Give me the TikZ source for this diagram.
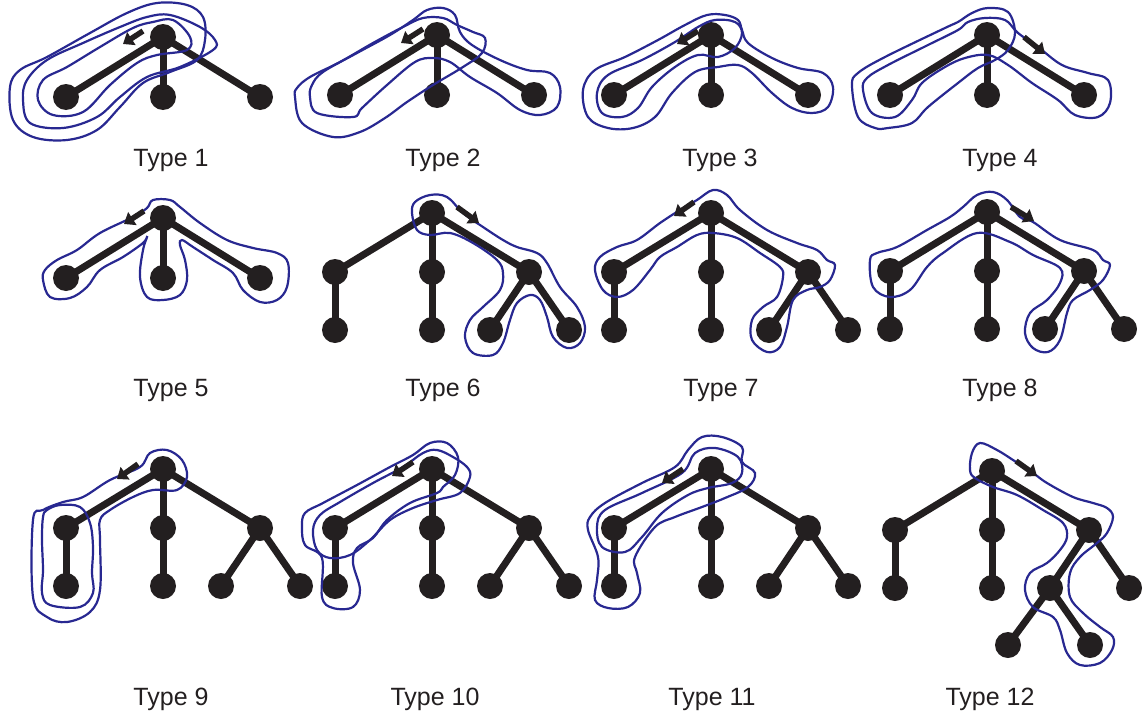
\documentclass[tikz,border=0pt]{standalone}
\usepackage{fontspec}
\newfontfamily\labfont{Liberation Sans}
\usetikzlibrary{arrows.meta}
\definecolor{inkblk}{RGB}{35,31,32}
\definecolor{penblue}{RGB}{40,40,145}
\begin{document}
\begin{tikzpicture}[x=1pt,y=-1pt,
  vtx/.style={circle,fill=inkblk,inner sep=0pt,minimum size=26pt},
  limb/.style={draw=inkblk,line width=7pt},
  outl/.style={draw=penblue,line width=2.2pt},
  arr/.style={draw=inkblk,line width=5.5pt,-{Triangle[length=10pt,width=15pt]}},
  lab/.style={font=\labfont\fontsize{25}{29}\selectfont,text=inkblk}]
\useasboundingbox (0,0) rectangle (1144,723);
% ---- one-level trees (types 1-5)
\foreach \i/\x/\y in {1/163/37,2/437/35,3/711/35,4/987/35,5/163/218}{
  \node[vtx] (t\i r) at (\x,\y) {};
  \node[vtx] (t\i a) at (\x-97,\y+60) {};
  \node[vtx] (t\i b) at (\x,\y+60) {};
  \node[vtx] (t\i c) at (\x+97,\y+60) {};
  \draw[limb] (t\i r.center) -- (t\i a.center);
  \draw[limb] (t\i r.center) -- (t\i b.center);
  \draw[limb] (t\i r.center) -- (t\i c.center);
}
% ---- two-level trees (types 6-12)
\foreach \i/\x/\y in {6/432/213,7/711/213,8/987/212,9/163/469,10/432/469,11/711/469,12/992/471}{
  \node[vtx] (t\i r) at (\x,\y) {};
  \node[vtx] (t\i a) at (\x-97,\y+59) {};
  \node[vtx] (t\i b) at (\x,\y+59) {};
  \node[vtx] (t\i c) at (\x+97,\y+59) {};
  \node[vtx] (t\i d) at (\x-97,\y+117) {};
  \node[vtx] (t\i e) at (\x,\y+117) {};
  \node[vtx] (t\i f) at (\x+58,\y+117) {};
  \node[vtx] (t\i g) at (\x+137,\y+117) {};
  \draw[limb] (t\i r.center) -- (t\i a.center);
  \draw[limb] (t\i r.center) -- (t\i b.center);
  \draw[limb] (t\i r.center) -- (t\i c.center);
  \draw[limb] (t\i a.center) -- (t\i d.center);
  \draw[limb] (t\i b.center) -- (t\i e.center);
  \draw[limb] (t\i c.center) -- (t\i f.center);
  \draw[limb] (t\i c.center) -- (t\i g.center);
}
\node[vtx] (t12h) at (1008,645) {};
\node[vtx] (t12i) at (1090,645) {};
\draw[limb] (t12f.center) -- (t12h.center);
\draw[limb] (t12f.center) -- (t12i.center);

% ---- outlines
% type 1
\draw[outl] plot[smooth cycle,tension=0.6] coordinates {(38,100) (53,115) (83,112) (110,85) (137,63) (157,55) (187,50) (190,37) (173,20) (153,22) (133,28) (100,47) (67,67) (43,80)};
\draw[outl] plot[smooth cycle,tension=0.6] coordinates {(23,100) (30,123) (63,128) (97,117) (120,97) (147,77) (180,67) (213,50) (215,40) (200,27) (170,15) (147,17) (120,27) (83,43) (47,60) (27,80)};
\draw[outl] plot[smooth cycle,tension=0.6] coordinates {(10,87) (13,120) (33,137) (67,140) (97,130) (120,107) (143,83) (170,72) (197,60) (205,40) (203,17) (187,5) (157,3) (127,13) (90,33) (47,57) (20,70)};
% type 2
\draw[outl] plot[smooth cycle,tension=0.6] coordinates {(310,97) (317,113) (353,117) (362,108) (387,85) (415,62) (433,58) (450,62) (470,77) (497,93) (520,110) (540,115) (557,107) (560,87) (550,73) (527,70) (500,60) (472,45) (460,32) (455,15) (443,8) (427,10) (413,20) (390,35) (357,53) (323,72) (312,85)};
\draw[outl] plot[smooth cycle,tension=0.6] coordinates {(295,97) (302,123) (333,137) (360,132) (385,118) (407,102) (433,85) (463,67) (482,53) (485,38) (473,32) (457,25) (443,18) (423,18) (403,27) (373,43) (340,62) (310,77) (297,88)};
% type 3
\draw[outl] plot[smooth cycle,tension=0.6] coordinates {(583,90) (588,117) (608,128) (633,128) (655,117) (672,93) (695,72) (718,67) (738,65) (752,73) (772,93) (792,108) (812,113) (828,107) (833,87) (823,73) (798,68) (772,58) (748,43) (742,30) (738,20) (725,15) (707,15) (685,25) (658,40) (625,57) (595,70)};
\draw[outl] plot[smooth cycle,tension=0.6] coordinates {(597,93) (602,113) (622,117) (638,108) (652,87) (675,67) (698,55) (718,57) (735,48) (742,33) (735,22) (715,20) (698,27) (675,42) (642,60) (608,75)};
% type 4
\draw[outl] plot[smooth cycle,tension=0.6] coordinates {(852,85) (858,117) (875,128) (888,128) (912,123) (928,107) (958,83) (978,68) (995,60) (1008,50) (1015,33) (1008,12) (988,8) (972,13) (958,22) (945,28) (885,57) (858,73)};
\draw[outl] plot[smooth cycle,tension=0.6] coordinates {(863,90) (872,113) (895,117) (912,100) (922,83) (945,67) (965,58) (988,55) (1008,65) (1032,83) (1058,100) (1075,115) (1098,117) (1110,103) (1108,80) (1088,73) (1062,65) (1038,47) (1018,33) (1005,20) (985,18) (968,22) (958,30) (928,45) (888,65) (867,78)};
% type 5
\draw[outl] plot[smooth cycle,tension=0.6] coordinates {(43,280) (50,297) (70,298) (87,287) (100,270) (123,257) (143,243) (147,237) (143,250) (140,277) (147,297) (163,300) (180,295) (187,280) (185,260) (180,245) (182,240) (193,247) (213,260) (233,273) (243,290) (260,302) (277,300) (287,287) (288,263) (277,253) (253,248) (227,240) (200,223) (180,207) (170,200) (153,200) (147,208) (133,217) (100,233) (77,250) (57,260) (45,270)};
% type 6
\draw[outl] plot[smooth cycle,tension=0.6] coordinates {(412,213) (417,230) (430,235) (450,233) (473,243) (497,260) (503,273) (500,290) (483,307) (470,320) (465,337) (473,353) (493,355) (503,343) (510,320) (517,303) (530,295) (540,300) (547,317) (553,337) (567,348) (580,343) (585,327) (577,307) (560,287) (547,263) (537,253) (517,247) (503,240) (483,227) (463,213) (447,197) (430,195) (415,202)};
% type 7
\draw[outl] plot[smooth cycle,tension=0.6] coordinates {(595,270) (603,290) (617,297) (633,290) (650,270) (660,257) (677,247) (697,235) (713,233) (737,238) (760,253) (780,267) (783,277) (777,297) (763,307) (752,320) (752,340) (767,352) (780,347) (787,327) (793,300) (807,290) (820,287) (830,280) (835,265) (827,260) (817,250) (797,243) (767,230) (740,210) (727,195) (713,190) (697,200) (680,210) (660,223) (637,240) (617,247) (600,257)};
% type 8
\draw[outl] plot[smooth cycle,tension=0.6] coordinates {(870,260) (873,287) (890,297) (910,290) (927,267) (943,253) (977,233) (1010,242) (1033,255) (1060,268) (1060,283) (1047,300) (1030,313) (1025,333) (1033,348) (1048,352) (1060,340) (1067,313) (1073,300) (1090,290) (1103,280) (1110,265) (1103,260) (1093,250) (1060,240) (1033,222) (1020,217) (1007,200) (993,192) (977,195) (963,207) (950,217) (927,230) (897,247) (877,253)};
% type 9
\draw[outl] plot[smooth cycle,tension=0.6] coordinates {(43,517) (42,540) (43,570) (42,593) (50,605) (80,607) (93,593) (92,573) (93,547) (90,523) (80,507) (60,505) (47,510)};
\draw[outl] plot[smooth cycle,tension=0.6] coordinates {(33,520) (33,597) (47,617) (67,622) (90,612) (100,590) (100,540) (100,520) (110,510) (133,497) (153,490) (177,490) (187,477) (182,460) (167,450) (150,453) (140,467) (110,480) (83,497) (63,502) (43,510)};
% type 10
\draw[outl] plot[smooth cycle,tension=0.6] coordinates {(302,527) (305,545) (322,558) (322,597) (333,608) (353,607) (360,590) (353,563) (357,548) (373,538) (387,520) (410,503) (437,493) (443,487) (455,475) (458,457) (447,443) (430,443) (413,455) (390,467) (357,485) (323,503) (305,513)};
\draw[outl] plot[smooth cycle,tension=0.6] coordinates {(313,530) (317,550) (330,558) (350,555) (370,540) (390,520) (413,508) (437,500) (460,493) (470,477) (467,467) (453,457) (437,450) (423,453) (403,467) (373,483) (340,502) (320,515)};
% type 11
\draw[outl] plot[smooth cycle,tension=0.6] coordinates {(588,530) (598,557) (597,580) (595,600) (608,608) (628,607) (640,593) (637,573) (635,557) (655,527) (675,517) (702,507) (725,498) (748,487) (755,473) (742,462) (742,447) (722,437) (702,437) (688,450) (675,467) (642,483) (605,503) (590,517)};
\draw[outl] plot[smooth cycle,tension=0.6] coordinates {(597,527) (602,547) (625,552) (642,537) (662,513) (688,495) (708,488) (732,483) (742,473) (738,457) (715,448) (695,453) (682,473) (642,493) (605,510)};
% type 12
\draw[outl] plot[smooth cycle,tension=0.6] coordinates {(970,470) (975,478) (993,487) (1017,495) (1043,510) (1063,523) (1067,537) (1060,550) (1047,563) (1030,573) (1025,590) (1033,607) (1053,617) (1060,630) (1067,653) (1080,665) (1100,663) (1112,650) (1113,637) (1100,627) (1083,613) (1070,597) (1070,573) (1080,557) (1097,543) (1107,533) (1113,517) (1107,508) (1093,503) (1073,497) (1047,483) (1033,473) (1013,460) (997,450) (980,443) (972,453)};

% ---- arrows (drawn over the outlines)
\coordinate (a1s) at (143,31);  \coordinate (a1e) at (123,44);
\coordinate (a2s) at (423,29);  \coordinate (a2e) at (401,43);
\coordinate (a3s) at (698,31);  \coordinate (a3e) at (677,44);
\coordinate (a4s) at (1024,37); \coordinate (a4e) at (1045,54);
\coordinate (a5s) at (144,211); \coordinate (a5e) at (124,224);
\coordinate (a6s) at (457,207); \coordinate (a6e) at (479,223);
\coordinate (a7s) at (694,202); \coordinate (a7e) at (674,216);
\coordinate (a8s) at (1011,207);\coordinate (a8e) at (1034,221);
\coordinate (a9s) at (138,464); \coordinate (a9e) at (117,479);
\coordinate (a10s) at (413,462);\coordinate (a10e) at (392,476);
\coordinate (a11s) at (683,469);\coordinate (a11e) at (662,483);
\coordinate (a12s) at (1016,461);\coordinate (a12e) at (1037,476);
\foreach \k in {1,...,12}{\draw[arr] (a\k s) -- (a\k e);}

% ---- labels
\node[lab] (l1) at (171,160) {Type 1};
\node[lab] (l2) at (443,160) {Type 2};
\node[lab] (l3) at (720,160) {Type 3};
\node[lab] (l4) at (1000,160) {Type 4};
\node[lab] (l5) at (171,390) {Type 5};
\node[lab] (l6) at (443,390) {Type 6};
\node[lab] (l7) at (721,390) {Type 7};
\node[lab] (l8) at (1000,390) {Type 8};
\node[lab] (l9) at (171,699) {Type 9};
\node[lab] (l10) at (435,699) {Type 10};
\node[lab] (l11) at (712,699) {Type 11};
\node[lab] (l12) at (990,699) {Type 12};
\end{tikzpicture}
\end{document}
